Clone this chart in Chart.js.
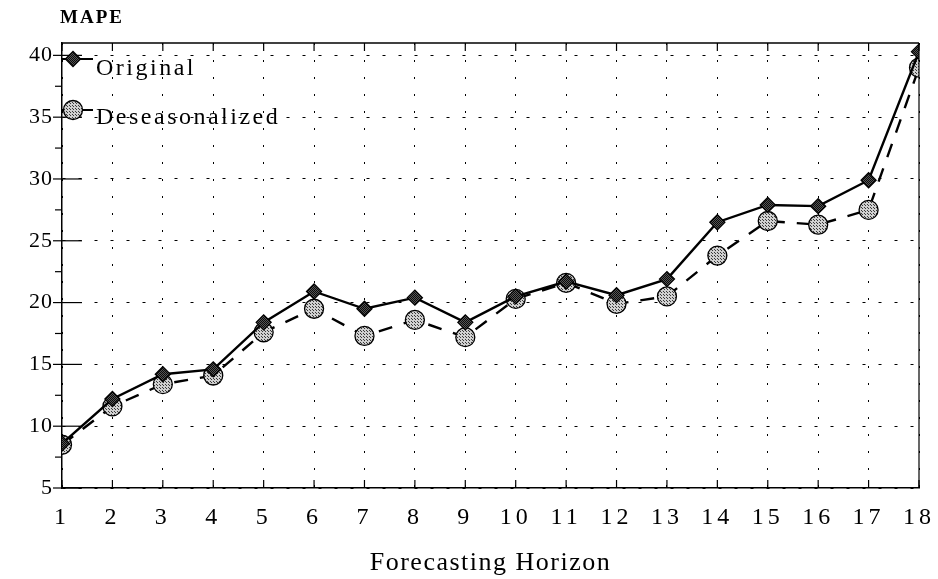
<!DOCTYPE html>
<html><head><meta charset="utf-8">
<script src="https://cdn.jsdelivr.net/npm/chart.js@4.4.0/dist/chart.umd.min.js"></script>
<style>html,body{margin:0;padding:0;background:#fff;}#wrap{width:938px;height:579px;position:relative}</style>
</head><body><div id="wrap"><canvas id="c" width="938" height="579"></canvas></div>
<script>
const horizons = [1,2,3,4,5,6,7,8,9,10,11,12,13,14,15,16,17,18];
const original = [8.6,12.2,14.2,14.6,18.4,20.9,19.5,20.4,18.4,20.5,21.7,20.6,21.9,26.5,27.9,27.8,29.9,40.3];
const deseasonalized = [8.5,11.6,13.4,14.1,17.6,19.5,17.3,18.6,17.2,20.3,21.6,19.9,20.5,23.8,26.6,26.3,27.5,39.0];
const yTicks = [5,10,15,20,25,30,35,40];
const seriesNames = ['Original','Deseasonalized'];
const yTitle = 'MAPE';
const xTitle = 'Forecasting Horizon';

const SERIF = "'Liberation Serif','Times New Roman',serif";

function makePattern(bg, fg, step){
  const c=document.createElement('canvas'); c.width=c.height=step;
  const g=c.getContext('2d'); g.fillStyle=bg; g.fillRect(0,0,step,step);
  g.fillStyle=fg; g.fillRect(0,0,1,1); g.fillRect(Math.floor(step/2),Math.floor(step/2),1,1);
  return g.createPattern(c,'repeat');
}
const ctx0 = document.getElementById('c').getContext('2d');
const diamondFill = makePattern('#555','#0a0a0a',2);
const circleFill = makePattern('#d0d0d0','#3a3a3a',3);

const styles = [
  {pointStyle:'rectRot', radius:7.5, fill:diamondFill, dash:[]},
  {pointStyle:'circle', radius:9.5, fill:circleFill, dash:[14,12]}
];

const decor = {
  id:'decor',
  beforeDraw(chart){
    const c = chart.ctx;
    c.letterSpacing = '1px';
    const xs = chart.scales.x;
    if (!xs._patched){
      const dl = xs.drawLabels.bind(xs), dt = xs.drawTitle.bind(xs);
      xs.drawLabels = function(a){ const p=this.ctx.letterSpacing; this.ctx.letterSpacing='4px'; dl(a); this.ctx.letterSpacing=p; };
      xs.drawTitle = function(a){ const p=this.ctx.letterSpacing; this.ctx.letterSpacing='1.5px'; dt(a); this.ctx.letterSpacing=p; };
      xs._patched = true;
    }
  },
  afterDraw(chart){
    const {ctx, chartArea:a, scales:{x,y}} = chart;
    ctx.save();
    ctx.letterSpacing='0px';
    ctx.strokeStyle='#000';
    const line=(x1,y1,x2,y2,w)=>{ctx.lineWidth=w;ctx.beginPath();ctx.moveTo(x1,y1);ctx.lineTo(x2,y2);ctx.stroke();};
    // frame
    line(a.left,a.top,a.right,a.top,1.5);
    line(a.right,a.top,a.right,a.bottom,1.2);
    // y ticks
    yTicks.forEach(v=>{const p=y.getPixelForValue(v); line(a.left-9,p,a.left+20,p,1.2);});
    for(let v=7.5; v<41; v+=5){const p=y.getPixelForValue(v); line(a.left-7,p,a.left,p,1.2);}
    // x ticks
    horizons.forEach(h=>{const p=x.getPixelForValue(h); line(p,a.bottom,p,a.bottom-8,1.2); line(p,a.top,p,a.top+8,1.2);});
    // legend
    const ds = chart.data.datasets;
    const rows = [{y:59, ty:75},{y:110, ty:124}];
    ds.forEach((d,i)=>{
      const r = rows[i];
      ctx.strokeStyle='#000';
      line(a.left, r.y, a.left+31, r.y, 2);
      ctx.fillStyle = styles[i].fill; ctx.lineWidth=1.3;
      Chart.helpers.drawPoint(ctx, {pointStyle:styles[i].pointStyle, radius:styles[i].radius, rotation:0, borderWidth:1.3}, a.left+11, r.y);
      ctx.fillStyle='#000';
      ctx.font = "24px " + SERIF;
      ctx.letterSpacing='2.5px';
      ctx.textBaseline='alphabetic'; ctx.textAlign='left';
      ctx.fillText(d.label, a.left+34, r.ty);
    });
    // y title
    ctx.font = "bold 19px " + SERIF;
    ctx.letterSpacing='2px';
    ctx.fillText(yTitle, 60, 23);
    ctx.restore();
  }
};

new Chart(ctx0, {
  type:'line',
  data:{
    labels: horizons,
    datasets:[original, deseasonalized].map((vals,i)=>({
      label: seriesNames[i],
      data: horizons.map((h,j)=>({x:h, y:vals[j]})),
      borderColor:'#000', borderWidth:2.4, borderDash:styles[i].dash,
      pointStyle:styles[i].pointStyle, pointRadius:styles[i].radius,
      pointBackgroundColor:styles[i].fill, pointBorderColor:'#000', pointBorderWidth:1.3,
      tension:0, fill:false
    }))
  },
  options:{
    responsive:false, animation:false, devicePixelRatio:1,
    layout:{padding:{left:0, top:43, right:19, bottom:0}},
    plugins:{legend:{display:false}, tooltip:{enabled:false}},
    scales:{
      x:{
        type:'linear', min:1, max:18,
        afterFit(s){ s.height = 91; s.paddingRight = 0; s.paddingLeft = 0; },
        ticks:{stepSize:1, color:'#000', font:{family:SERIF, size:24}, padding:15, maxRotation:0, autoSkip:false},
        grid:{color:'#000', lineWidth:1, drawTicks:false},
        border:{display:true, color:'#000', width:1.5, dash:[2,15]},
        title:{display:true, text:xTitle, color:'#000', font:{family:SERIF, size:26}, padding:{top:0,bottom:0}}
      },
      y:{
        min:5, max:41,
        afterFit(s){ s.width = 62; s.paddingTop = 0; s.paddingBottom = 0; },
        ticks:{stepSize:5, includeBounds:false, color:'#000', font:{family:SERIF, size:22}, padding:9},
        grid:{color:'#000', lineWidth:1, drawTicks:false},
        border:{display:true, color:'#000', width:1.5, dash:[3,13]}
      }
    }
  },
  plugins:[decor]
});
</script></body></html>
